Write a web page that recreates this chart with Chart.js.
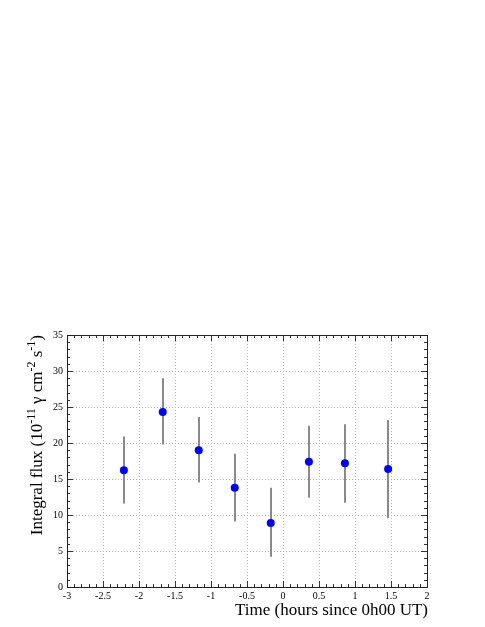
<!DOCTYPE html>
<html>
<head>
<meta charset="utf-8">
<script src="https://cdn.jsdelivr.net/npm/chart.js@4"></script>
<style>
html,body{margin:0;padding:0;background:#fff;}
#wrap{width:485px;height:627px;}
</style>
</head>
<body>
<div id="wrap"><canvas id="c" width="485" height="627"></canvas></div>
<script>
// ---- data ----
const times    = [-2.21, -1.67, -1.17, -0.67, -0.17, 0.36, 0.86, 1.46];
const flux     = [16.2, 24.3, 19.0, 13.8, 8.9, 17.4, 17.2, 16.4];
const fluxHigh = [20.9, 29.0, 23.6, 18.5, 13.8, 22.4, 22.6, 23.2];
const fluxLow  = [11.6, 19.8, 14.5, 9.1, 4.2, 12.4, 11.7, 9.6];
const xTickLabels = ['-3','-2.5','-2','-1.5','-1','-0.5','0','0.5','1','1.5','2'];
const yTickLabels = ['0','5','10','15','20','25','30','35'];
const xTitle = 'Time (hours since 0h00 UT)';

const SERIF = '"Liberation Serif", "DejaVu Serif", serif';

const points = times.map((t, i) => ({x: t, y: flux[i]}));

const errorBars = {
  id: 'errorBars',
  beforeDatasetsDraw(chart) {
    const {ctx, scales: {x, y}} = chart;
    ctx.save();
    ctx.strokeStyle = '#8a8a8a';
    ctx.lineWidth = 2;
    times.forEach((t, i) => {
      const px = Math.round(x.getPixelForValue(t));
      ctx.beginPath();
      ctx.moveTo(px, y.getPixelForValue(fluxLow[i]));
      ctx.lineTo(px, y.getPixelForValue(fluxHigh[i]));
      ctx.stroke();
    });
    ctx.restore();
  }
};

const frameTicks = {
  id: 'frameTicks',
  afterDraw(chart) {
    const {ctx, chartArea: a, scales: {x, y}} = chart;
    ctx.save();
    ctx.strokeStyle = '#333';
    ctx.lineWidth = 1;
    ctx.beginPath();
    // x ticks (minor every 0.1, major every 0.5)
    for (let k = 0; k <= 50; k++) {
      const v = -3 + k * 0.1;
      const px = Math.round(x.getPixelForValue(v)) + 0.5;
      const len = (k % 5 === 0) ? 6 : 3;
      ctx.moveTo(px, a.bottom); ctx.lineTo(px, a.bottom - len);
      ctx.moveTo(px, a.top); ctx.lineTo(px, a.top + len);
    }
    // y ticks (minor every 1, major every 5)
    for (let k = 0; k <= 35; k++) {
      const py = Math.round(y.getPixelForValue(k)) + 0.5;
      const len = (k % 5 === 0) ? 6 : 3;
      ctx.moveTo(a.left, py); ctx.lineTo(a.left + len, py);
      ctx.moveTo(a.right, py); ctx.lineTo(a.right - len, py);
    }
    ctx.stroke();
    ctx.strokeStyle = '#222';
    ctx.strokeRect(Math.round(a.left) + 0.5, Math.round(a.top) + 0.5,
                   Math.round(a.right - a.left), Math.round(a.bottom - a.top));

    // x title
    ctx.fillStyle = '#000';
    ctx.font = '17px ' + SERIF;
    ctx.textAlign = 'right';
    ctx.textBaseline = 'alphabetic';
    ctx.fillText(xTitle, a.right + 1, 615);

    // y title with superscripts
    const main = '17px ' + SERIF;
    const sup = '12px ' + SERIF;
    const parts = [
      ['Integral flux (10', main, 0],
      ['-11', sup, -7],
      [' \u03B3 cm', main, 0],
      ['-2', sup, -7],
      [' s', main, 0],
      ['-1', sup, -7],
      [')', main, 0]
    ];
    let total = 0;
    parts.forEach(p => { ctx.font = p[1]; total += ctx.measureText(p[0]).width; });
    ctx.translate(41.5, a.top + total);
    ctx.rotate(-Math.PI / 2);
    ctx.textAlign = 'left';
    let cx = 0;
    parts.forEach(p => {
      ctx.font = p[1];
      ctx.fillText(p[0], cx, p[2]);
      cx += ctx.measureText(p[0]).width;
    });
    ctx.restore();
  }
};

new Chart(document.getElementById('c'), {
  type: 'scatter',
  data: {
    datasets: [{
      data: points,
      backgroundColor: '#0000ff',
      borderColor: '#0000ff',
      pointRadius: 4,
      pointHoverRadius: 4,
      borderWidth: 0
    }]
  },
  options: {
    responsive: false,
    devicePixelRatio: 1,
    animation: false,
    events: [],
    layout: {padding: {top: 335, right: 58, left: 0, bottom: 0}},
    plugins: {legend: {display: false}, tooltip: {enabled: false}},
    scales: {
      x: {
        type: 'linear', min: -3, max: 2,
        afterFit(s) { s.height = 40; },
        afterBuildTicks(s) { s.ticks = xTickLabels.map(v => ({value: parseFloat(v)})); },
        ticks: {
          callback: (v, i) => xTickLabels[i],
          font: {family: SERIF, size: 10}, color: '#000', padding: 3,
          maxRotation: 0, autoSkip: false
        },
        grid: {color: '#b0b0b0', lineWidth: 1, drawTicks: false},
        border: {display: false, dash: [1, 2]}
      },
      y: {
        type: 'linear', min: 0, max: 35,
        afterFit(s) { s.width = 67; },
        afterBuildTicks(s) { s.ticks = yTickLabels.map(v => ({value: parseFloat(v)})); },
        ticks: {
          callback: (v, i) => yTickLabels[i],
          font: {family: SERIF, size: 10}, color: '#000', padding: 4,
          autoSkip: false
        },
        grid: {color: '#b0b0b0', lineWidth: 1, drawTicks: false},
        border: {display: false, dash: [1, 2]}
      }
    }
  },
  plugins: [errorBars, frameTicks]
});
</script>
</body>
</html>
